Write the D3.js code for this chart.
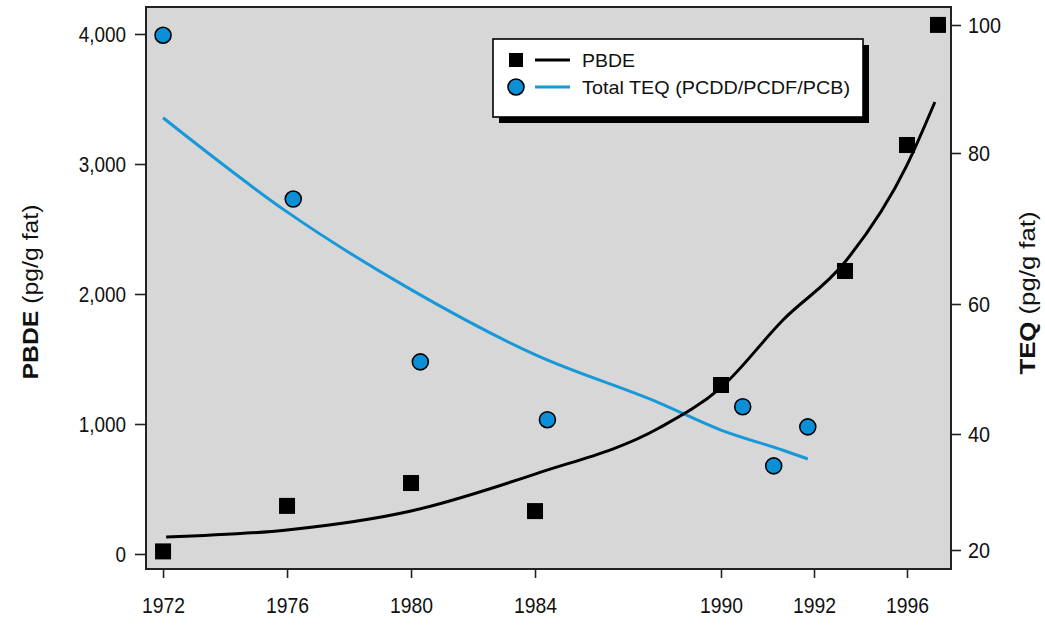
<!DOCTYPE html>
<html>
<head>
<meta charset="utf-8">
<script src="https://cdn.jsdelivr.net/npm/d3@7/dist/d3.min.js"></script>
<style>
  html, body { margin: 0; padding: 0; background: #fff; }
  svg { display: block; }
  text { font-family: "Liberation Sans", Arial, sans-serif; fill: #111; }
</style>
</head>
<body>
<svg id="chart" width="1045" height="628"></svg>
<script>
// PBDE measurements (pg/g fat) and the fitted trend
const pbdeYears = [1972, 1976, 1980, 1984, 1990, 1994, 1996, 1997];
const pbdeValues = [20, 370, 546, 330, 1300, 2177, 3146, 4070];
const pbdeFitYears = [1972.1, 1976, 1980, 1984, 1988, 1990, 1992, 1994, 1996, 1996.9];
const pbdeFitValues = [131, 185, 331, 615, 969, 1280, 1800, 2246, 2992, 3477];

// Total TEQ (PCDD/PCDF/PCB) measurements (pg/g fat) and the fitted trend
const teqYears = [1972, 1976.2, 1980.3, 1984.4, 1990.7, 1991.7, 1992.8];
const teqValues = [98.4, 73.9, 51.1, 42.2, 44.2, 34.5, 41.1];
const teqFitYears = [1972, 1976, 1980, 1984, 1988, 1990, 1992, 1992.8];
const teqFitValues = [85.5, 72.2, 61.9, 52.2, 44.8, 40.6, 37.2, 35.7];

// Axis ticks
const xTickYears = [1972, 1976, 1980, 1984, 1990, 1993, 1996];
const xTickLabels = ["1972", "1976", "1980", "1984", "1990", "1992", "1996"];
const leftTicks = [0, 1000, 2000, 3000, 4000];
const rightTicks = [20, 40, 60, 80, 100];

const legendItems = ["PBDE", "Total TEQ (PCDD/PCDF/PCB)"];

const BLUE = "#0b8fd6";
const BLUE_LINE = "#1798d8";

const svg = d3.select("#chart");
const margin = { left: 146, top: 7, right: 94, bottom: 59 };
const W = 1045 - margin.left - margin.right;   // 805
const H = 628 - margin.top - margin.bottom;    // 562

const x = d3.scaleLinear().domain([1971.45, 1997.42]).range([0, W]);
const yL = d3.scaleLinear().domain([-115.4, 4207.7]).range([H, 0]);
// right axis is unevenly spaced on the original artwork, so it is piecewise
const yR = d3.scaleLinear().domain(rightTicks).range([543, 427, 297, 146, 18]);

const g = svg.append("g").attr("transform", `translate(${margin.left},${margin.top})`);

// plot background
g.append("rect").attr("x", 0).attr("y", 0).attr("width", W).attr("height", H)
  .attr("fill", "#d7d7d7");

// fitted curves
const lineP = d3.line().x((d, i) => x(pbdeFitYears[i])).y(d => yL(d)).curve(d3.curveMonotoneX);
const lineT = d3.line().x((d, i) => x(teqFitYears[i])).y(d => yR(d)).curve(d3.curveMonotoneX);

g.append("path").datum(teqFitValues).attr("d", lineT)
  .attr("fill", "none").attr("stroke", BLUE_LINE).attr("stroke-width", 3);
g.append("path").datum(pbdeFitValues).attr("d", lineP)
  .attr("fill", "none").attr("stroke", "#000").attr("stroke-width", 3);

// PBDE squares
const sq = 16;
g.selectAll("rect.pbde").data(pbdeValues).join("rect").attr("class", "pbde")
  .attr("x", (d, i) => x(pbdeYears[i]) - sq / 2)
  .attr("y", d => yL(d) - sq / 2)
  .attr("width", sq).attr("height", sq).attr("fill", "#000");

// TEQ circles
g.selectAll("circle.teq").data(teqValues).join("circle").attr("class", "teq")
  .attr("cx", (d, i) => x(teqYears[i]))
  .attr("cy", d => yR(d))
  .attr("r", 8).attr("fill", BLUE).attr("stroke", "#000").attr("stroke-width", 1.6);

// frame
g.append("rect").attr("x", 0).attr("y", 0).attr("width", W).attr("height", H)
  .attr("fill", "none").attr("stroke", "#222").attr("stroke-width", 2);

// squeeze text horizontally to a narrower face
function condense(sel, f) {
  sel.each(function () {
    const len = this.getComputedTextLength();
    d3.select(this).attr("textLength", len * f).attr("lengthAdjust", "spacingAndGlyphs");
  });
}

// axes
const axL = d3.axisLeft(yL).tickValues(leftTicks).tickFormat(d3.format(",")).tickSize(11).tickPadding(9);
const axR = d3.axisRight(yR).tickValues(rightTicks).tickSize(10).tickPadding(7);
const axB = d3.axisBottom(x).tickValues(xTickYears)
  .tickFormat((d, i) => xTickLabels[i]).tickSize(9).tickPadding(19);

function styleAxis(a) {
  a.select(".domain").remove();
  a.selectAll(".tick line").attr("stroke", "#222").attr("stroke-width", 1.6);
  a.selectAll(".tick text").attr("font-size", 22).attr("fill", "#111");
}

const gL = g.append("g").call(axL); styleAxis(gL);
const gR = g.append("g").attr("transform", `translate(${W},0)`).call(axR); styleAxis(gR);
const gB = g.append("g").attr("transform", `translate(0,${H})`).call(axB); styleAxis(gB);
condense(gL.selectAll(".tick text"), 0.86);
condense(gR.selectAll(".tick text"), 0.9);
condense(gB.selectAll(".tick text"), 0.88);

// axis titles
const tL = svg.append("text").attr("transform", "translate(38,292) rotate(-90)")
  .attr("text-anchor", "middle").attr("font-size", 22)
  .attr("textLength", 175).attr("lengthAdjust", "spacingAndGlyphs");
tL.append("tspan").attr("font-weight", "bold").text("PBDE");
tL.append("tspan").text(" (pg/g fat)");

const tR = svg.append("text").attr("transform", "translate(1035,293) rotate(-90)")
  .attr("text-anchor", "middle").attr("font-size", 22)
  .attr("textLength", 163).attr("lengthAdjust", "spacingAndGlyphs");
tR.append("tspan").attr("font-weight", "bold").text("TEQ");
tR.append("tspan").text(" (pg/g fat)");

// legend with drop shadow
const lg = svg.append("g").attr("transform", "translate(493,39)");
lg.append("rect").attr("x", 6).attr("y", 6).attr("width", 370).attr("height", 78).attr("fill", "#000");
lg.append("rect").attr("x", 0).attr("y", 0).attr("width", 370).attr("height", 78)
  .attr("fill", "#fff").attr("stroke", "#000").attr("stroke-width", 1.6);

const rowY = [21, 48];
lg.append("rect").attr("x", 16).attr("y", rowY[0] - 7).attr("width", 14).attr("height", 14).attr("fill", "#000");
lg.append("line").attr("x1", 42).attr("x2", 77).attr("y1", rowY[0]).attr("y2", rowY[0])
  .attr("stroke", "#000").attr("stroke-width", 3);
lg.append("circle").attr("cx", 23).attr("cy", rowY[1]).attr("r", 8)
  .attr("fill", BLUE).attr("stroke", "#000").attr("stroke-width", 1.6);
lg.append("line").attr("x1", 42).attr("x2", 77).attr("y1", rowY[1]).attr("y2", rowY[1])
  .attr("stroke", BLUE_LINE).attr("stroke-width", 3);

const legendWidths = [53, 268];
lg.selectAll("text.lab").data(legendItems).join("text").attr("class", "lab")
  .attr("x", 89).attr("y", (d, i) => rowY[i] + 7)
  .attr("font-size", 19)
  .attr("textLength", (d, i) => legendWidths[i]).attr("lengthAdjust", "spacingAndGlyphs")
  .text(d => d);
</script>
</body>
</html>
